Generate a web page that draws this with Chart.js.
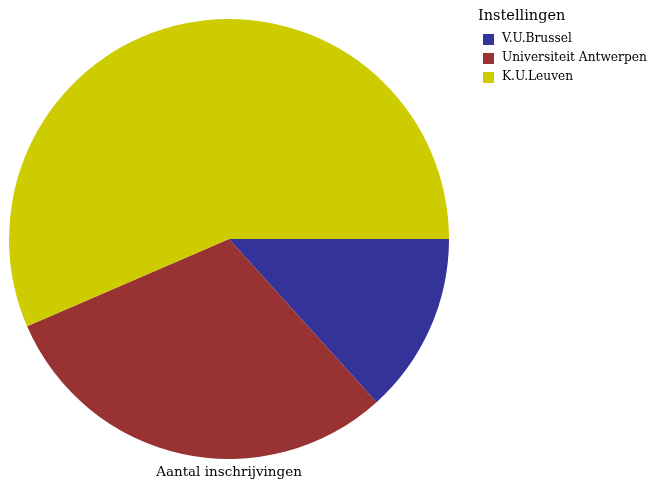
<!DOCTYPE html>
<html>
<head>
<meta charset="utf-8">
<script src="https://cdn.jsdelivr.net/npm/chart.js@4/dist/chart.umd.min.js"></script>
<style>
  html, body { margin: 0; padding: 0; background: #fff; }
  #pie { display: block; }
</style>
</head>
<body>
<canvas id="pie" width="650" height="480"></canvas>
<script>
const labels = ["V.U.Brussel", "Universiteit Antwerpen", "K.U.Leuven"];
const values = [13.3, 30.2, 56.5];
const colors = ["#333399", "#993333", "#CCCC00"];
const legendTitle = "Instellingen";
const axisLabel = "Aantal inschrijvingen";
const font = "'DejaVu Serif', serif";

// legend + bottom label drawn on the canvas
const extras = {
  id: "extras",
  afterDraw(chart) {
    const ctx = chart.ctx;
    ctx.save();
    ctx.fillStyle = "#000";
    ctx.textBaseline = "middle";
    ctx.textAlign = "left";
    ctx.font = "14.5px " + font;
    ctx.fillText(legendTitle, 478, 16);
    ctx.font = "12.2px " + font;
    labels.forEach((l, i) => {
      const y = 39 + i * 19;
      ctx.fillStyle = colors[i];
      ctx.fillRect(483, y - 5, 11, 11);
      ctx.fillStyle = "#000";
      ctx.fillText(l, 502, y);
    });
    ctx.font = "13.5px " + font;
    ctx.textAlign = "center";
    ctx.fillText(axisLabel, 229, 472);
    ctx.restore();
  }
};

new Chart(document.getElementById("pie"), {
  type: "pie",
  data: {
    labels,
    datasets: [{ data: values, backgroundColor: colors, borderWidth: 0 }]
  },
  options: {
    responsive: false,
    animation: false,
    rotation: 90,
    layout: { padding: { left: 9, top: 19, bottom: 21, right: 201 } },
    plugins: { legend: { display: false }, tooltip: { enabled: false } }
  },
  plugins: [extras]
});
</script>
</body>
</html>
